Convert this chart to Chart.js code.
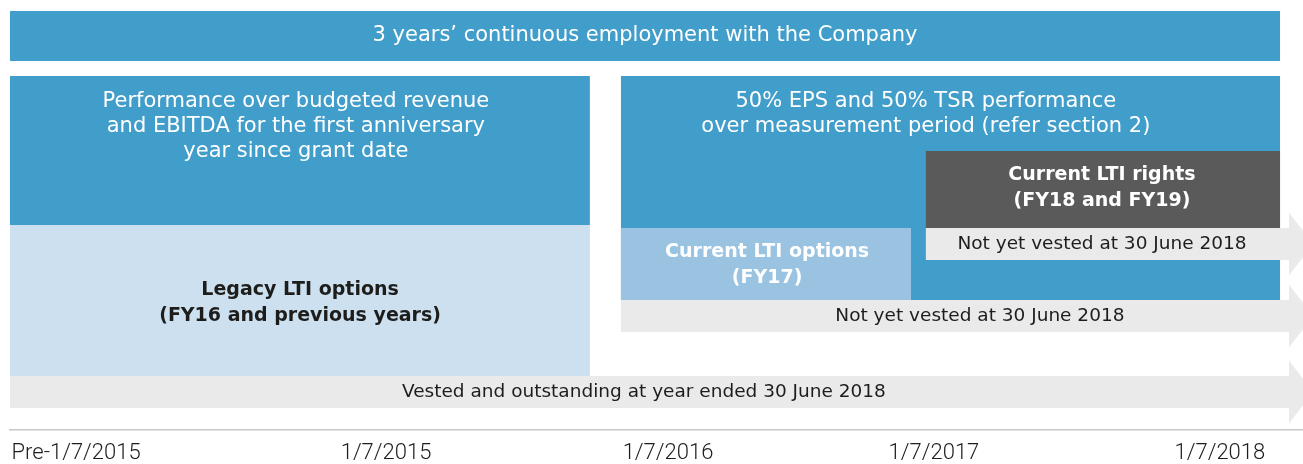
<!DOCTYPE html>
<html><head><meta charset="utf-8">
<script src="https://cdn.jsdelivr.net/npm/chart.js@4.4.1/dist/chart.umd.min.js"></script>
<style>html,body{margin:0;padding:0;background:#fff}#wrap{width:1303px;height:464px;position:relative}</style>
</head><body><div id="wrap"><canvas id="c"></canvas></div>
<script>
// ---------- data ----------
const boxText = [
  ['3 years’ continuous employment with the Company'],
  ['Performance over budgeted revenue','and EBITDA for the first anniversary','year since grant date'],
  ['Legacy LTI options','(FY16 and previous years)'],
  ['50% EPS and 50% TSR performance','over measurement period (refer section 2)'],
  ['Current LTI options','(FY17)'],
  ['Current LTI rights','(FY18 and FY19)'],
  ['Not yet vested at 30 June 2018'],
  ['Not yet vested at 30 June 2018'],
  ['Vested and outstanding at year ended 30 June 2018']
];
// timeline start / end of each box (fractional years)
const boxStart = [2014.000, 2014.000, 2014.000, 2016.182, 2016.182, 2017.271, 2017.271, 2016.182, 2014.000];
const boxEnd   = [2018.536, 2016.071, 2016.071, 2018.536, 2017.218, 2018.536, 2018.568, 2018.568, 2018.568];
const tickLabels = ['Pre-1/7/2015','1/7/2015','1/7/2016','1/7/2017','1/7/2018'];
const tickValues = [2014.236, 2015.343, 2016.350, 2017.300, 2018.321];

// ---------- layout / style ----------
const laneTop    = [11, 76, 225, 76, 228, 151, 228, 300, 376];
const laneBottom = [61, 225, 376, 300, 300, 228, 260, 332, 408];
const hasArrow   = [false,false,false,false,false,false,true,true,true];
const BLUE='#419dca', LIGHT='#cde0ef', MID='#99c3e1', DARK='#5a5a5a', GREY='#eaeaea', WHITE='#ffffff', BLACK='#1d1d1b';
const fillColors = [BLUE, BLUE, LIGHT, BLUE, MID, DARK, GREY, GREY, GREY];
const textColors = [WHITE, WHITE, BLACK, WHITE, WHITE, WHITE, BLACK, BLACK, BLACK];
const REG = '21px "DejaVu Sans"', BOLD = 'bold 19px "DejaVu Sans"', SMALL = '18.5px "DejaVu Sans"';
const textFonts  = [REG, REG, BOLD, REG, BOLD, BOLD, SMALL, SMALL, SMALL];
const labelX = [2016.268, 2015.021, 2015.036, 2017.271, 2016.704, 2017.900, 2017.900, 2017.464, 2016.264];
const labelY = [36, 127, 303, 114.5, 265, 188, 244.5, 316, 392];
const lineGap = [25, 25, 26, 25, 26, 26, 25, 25, 25];
const HEAD_HALF = 31.5, HEAD_LEN = 0.086;

function shape(i){
  const x0=boxStart[i], x1=boxEnd[i], y0=laneTop[i], y1=laneBottom[i];
  if(!hasArrow[i]) return [{x:x0,y:y0},{x:x1,y:y0},{x:x1,y:y1},{x:x0,y:y1},{x:x0,y:y0}];
  const yc=(y0+y1)/2;
  return [{x:x0,y:y0},{x:x1,y:y0},{x:x1,y:yc-HEAD_HALF},{x:x1+HEAD_LEN,y:yc},
          {x:x1,y:yc+HEAD_HALF},{x:x1,y:y1},{x:x0,y:y1},{x:x0,y:y0}];
}

const datasets = boxText.map((t,i)=>({
  label: t.join(' '),
  data: shape(i),
  backgroundColor: fillColors[i],
  borderColor: 'rgba(0,0,0,0)',
  borderWidth: 0,
  pointRadius: 0,
  pointHoverRadius: 0,
  tension: 0,
  fill: 'shape',
  order: boxText.length - i
}));

const labelPlugin = {
  id: 'boxLabels',
  afterDatasetsDraw(chart){
    const {ctx, scales:{x, y}} = chart;
    ctx.save();
    ctx.textAlign='center'; ctx.textBaseline='middle';
    boxText.forEach((lines,i)=>{
      ctx.font = textFonts[i]; ctx.fillStyle = textColors[i];
      const cx = x.getPixelForValue(labelX[i]);
      const cy = y.getPixelForValue(labelY[i]);
      lines.forEach((s,k)=>ctx.fillText(s, cx, cy + (k-(lines.length-1)/2)*lineGap[i]));
    });
    ctx.restore();
  }
};

new Chart(document.getElementById('c'), {
  type: 'line',
  data: { datasets },
  options: {
    responsive: true, maintainAspectRatio: false, animation: false,
    layout: { padding: { left: 10, right: 0, top: 0, bottom: 0 } },
    plugins: { legend: { display: false }, tooltip: { enabled: false } },
    events: [],
    scales: {
      x: {
        type: 'linear', min: 2014.0, max: 2018.618,
        grid: { display: false, drawTicks: false },
        border: { display: true, color: '#c8c8c8', width: 1.5 },
        afterBuildTicks: s => { s.ticks = tickValues.map(v => ({ value: v })); },
        afterFit: s => { s.height = 34; s.paddingLeft = 0; s.paddingRight = 0; },
        ticks: {
          autoSkip: false, maxRotation: 0, minRotation: 0, padding: 12.5,
          color: BLACK, font: { family: 'Roboto', size: 22, weight: '300', lineHeight: 1 },
          callback: (v, idx) => tickLabels[idx]
        }
      },
      y: { type: 'linear', display: false, reverse: true, min: 0, max: 430 }
    }
  },
  plugins: [labelPlugin]
});
</script></body></html>
